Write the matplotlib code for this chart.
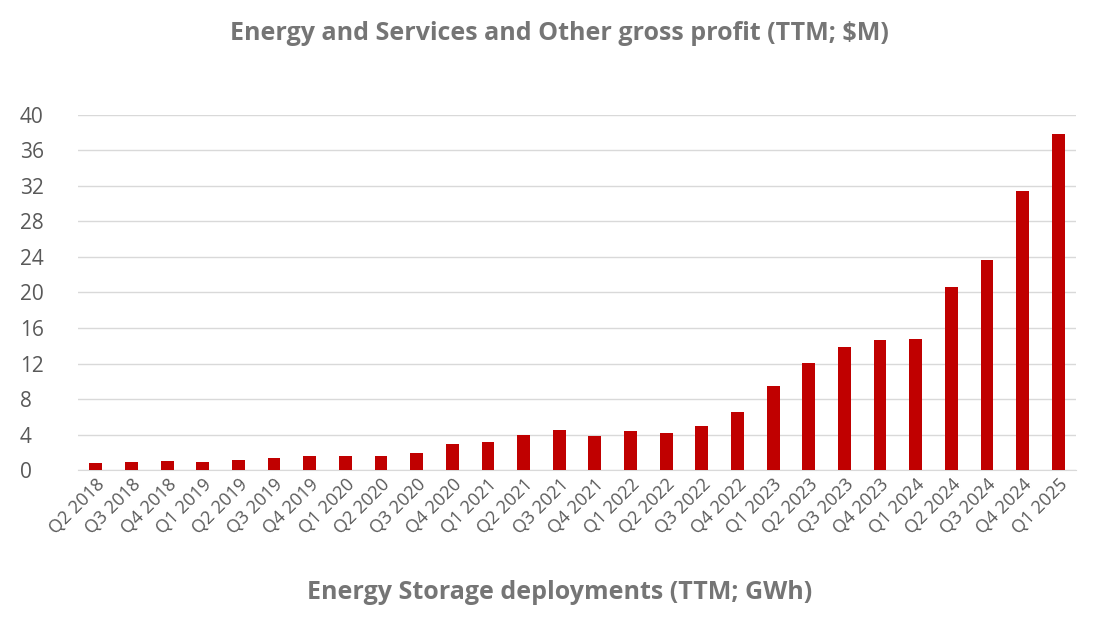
import matplotlib.pyplot as plt

quarters = ["Q2 2018", "Q3 2018", "Q4 2018", "Q1 2019", "Q2 2019", "Q3 2019", "Q4 2019",
            "Q1 2020", "Q2 2020", "Q3 2020", "Q4 2020", "Q1 2021", "Q2 2021", "Q3 2021",
            "Q4 2021", "Q1 2022", "Q2 2022", "Q3 2022", "Q4 2022", "Q1 2023", "Q2 2023",
            "Q3 2023", "Q4 2023", "Q1 2024", "Q2 2024", "Q3 2024", "Q4 2024", "Q1 2025"]
gross_profit = [0.8, 0.9, 1.0, 0.9, 1.1, 1.35, 1.6, 1.6, 1.6, 1.9, 3.0, 3.2, 4.0, 4.5,
                3.9, 4.4, 4.2, 5.0, 6.5, 9.5, 12.1, 13.9, 14.7, 14.8, 20.6, 23.6, 31.4, 37.8]
y_ticks = list(range(0, 41, 4))

plt.rcParams["font.family"] = "Open Sans"
fig = plt.figure(figsize=(11.14, 6.27), dpi=100)
ax = fig.add_axes([0.070, 0.25, 0.896, 0.567])

ax.bar(range(len(quarters)), gross_profit, width=0.36, color="#C00000", zorder=3)
ax.set_xlim(-0.5, len(quarters) - 0.5)
ax.set_ylim(0, 40)
ax.set_yticks(y_ticks)
ax.yaxis.grid(True, color="#D9D9D9", linewidth=1, zorder=0)
ax.set_xticks(range(len(quarters)))
ax.set_xticklabels(quarters, rotation=45, ha="right", rotation_mode="anchor")
ax.tick_params(axis="both", length=0, labelsize=13, colors="#595959")
ax.tick_params(axis="y", labelsize=15, pad=22)
for lbl in ax.get_yticklabels():
    lbl.set_horizontalalignment("left")
ax.tick_params(axis="y", pad=42)
for s in ["top", "right", "left"]:
    ax.spines[s].set_visible(False)
ax.spines["bottom"].set_color("#D9D9D9")

fig.text(0.502, 0.947, "Energy and Services and Other gross profit (TTM; $M)",
         ha="center", va="center", fontsize=18, fontweight="bold", color="#757575")
fig.text(0.502, 0.055, "Energy Storage deployments (TTM; GWh)",
         ha="center", va="center", fontsize=18, fontweight="bold", color="#757575")

fig.savefig("out.png", dpi=100)
